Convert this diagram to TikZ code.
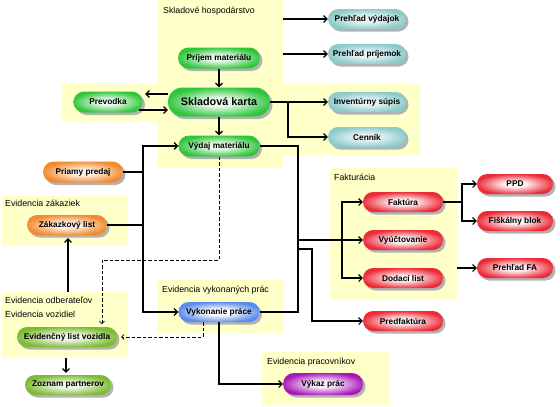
\documentclass[tikz,border=0pt]{standalone}
\usepackage{fontspec}
\setmainfont{Liberation Sans}
\usetikzlibrary{shapes.misc,shadows,arrows.meta}
\definecolor{panelY}{HTML}{FFFFC8}
\definecolor{cGreen}{HTML}{2FC63C}
\definecolor{cTeal}{HTML}{8DCACA}
\definecolor{cOrange}{HTML}{F28A2E}
\definecolor{cOlive}{HTML}{7DBB35}
\definecolor{cBlue}{HTML}{5A8CEC}
\definecolor{cPurple}{HTML}{A818B8}
\definecolor{cRed}{HTML}{EC2A38}
\colorlet{cGreenIn}{cGreen!10!white}
\colorlet{cTealIn}{cTeal!20!white}
\colorlet{cOrangeIn}{cOrange!12!white}
\colorlet{cOliveIn}{cOlive!12!white}
\colorlet{cBlueIn}{white}
\colorlet{cPurpleIn}{cPurple!6!white}
\colorlet{cRedIn}{cRed!6!white}
\newcommand{\mkpillshade}[1]{\pgfdeclareradialshading{sh#1}{\pgfpoint{0bp}{0bp}}{color(0bp)=(c#1In); color(7bp)=(c#1In); color(26bp)=(c#1); color(50bp)=(c#1)}}
\mkpillshade{Green}
\mkpillshade{Teal}
\mkpillshade{Orange}
\mkpillshade{Olive}
\mkpillshade{Blue}
\mkpillshade{Purple}
\mkpillshade{Red}
\begin{document}
\begin{tikzpicture}[x=1pt,y=-1pt,
  pill/.style={rounded rectangle, minimum width=80pt, minimum height=20pt, inner sep=0pt,
    font=\fontsize{8.3}{9}\selectfont\bfseries,
    drop shadow={shadow xshift=2.5pt,shadow yshift=-2.5pt,fill=black!30,opacity=1}},
  gr/.style={pill, shading=shGreen},
  te/.style={pill, shading=shTeal},
  orn/.style={pill, shading=shOrange},
  olv/.style={pill, shading=shOlive},
  blu/.style={pill, shading=shBlue},
  pur/.style={pill, shading=shPurple},
  rd/.style={pill, shading=shRed},
  ln/.style={line width=1.1pt},
  arr/.style={line width=1.1pt, -{Straight Barb[length=3.5pt,width=7pt]}},
  darr/.style={line width=0.7pt, dash pattern=on 3.5pt off 2pt, -{Straight Barb[length=2.5pt,width=5pt]}},
  panel/.style={fill=panelY, draw=none},
  plabel/.style={anchor=west, inner sep=0pt, font=\fontsize{8.8}{10}\selectfont}
]
\useasboundingbox (0,0) rectangle (560,407);
% panels
\fill[panel] (158,0) rectangle (283,168);
\fill[panel] (62,84) rectangle (158,122);
\fill[panel] (283,83) rectangle (420,155);
\fill[panel] (2,196) rectangle (128,246);
\fill[panel] (2,292) rectangle (128,357);
\fill[panel] (157,280) rectangle (284,333);
\fill[panel] (262,352) rectangle (389,405);
\fill[panel] (330,168) rectangle (457,300);
% panel labels
\node[plabel] (l1) at (163,11) {Skladové hospodárstvo};
\node[plabel] (l2) at (5,203) {Evidencia zákaziek};
\node[plabel] (l3) at (5,300) {Evidencia odberateľov};
\node[plabel] (l4) at (5,314) {Evidencia vozidiel};
\node[plabel] (l5) at (162,290) {Evidencia vykonaných prác};
\node[plabel] (l6) at (267,362) {Evidencia pracovníkov};
\node[plabel] (l7) at (334,177) {Fakturácia};
% nodes
\node[gr, minimum width=82pt, minimum height=21pt] (prijem) at (219,58) {Príjem materiálu};
\node[gr, minimum width=102pt, minimum height=29pt, font=\fontsize{10.8}{12}\selectfont\bfseries] (sk) at (219,102) {Skladová karta};
\node[gr, minimum width=81pt, minimum height=21pt] (vydaj) at (219,146) {Výdaj materiálu};
\node[gr, minimum width=69pt, minimum height=21pt] (prev) at (108,102) {Prevodka};
\node[te, minimum width=78pt] (pvyd) at (367,19) {Prehľad výdajok};
\node[te, minimum width=78pt] (pprij) at (367,54) {Prehľad príjemok};
\node[te, minimum width=78pt] (inv) at (367,102) {Inventúrny súpis};
\node[te, minimum width=78pt] (cen) at (367,137) {Cenník};
\node[orn, minimum height=21pt] (pp) at (83,172) {Priamy predaj};
\node[orn] (zak) at (67,225) {Zákazkový list};
\node[olv, minimum width=100pt] (evl) at (67,337) {Evidenčný list vozidla};
\node[olv, minimum width=86pt] (zoz) at (68,385) {Zoznam partnerov};
\node[blu, minimum width=81pt] (vykon) at (219,312) {Vykonanie práce};
\node[pur, minimum height=22pt] (vykaz) at (323,384) {Výkaz prác};
\node[rd] (fakt) at (403,202) {Faktúra};
\node[rd] (vyuct) at (403,240) {Vyúčtovanie};
\node[rd] (dod) at (403,278) {Dodací list};
\node[rd] (pred) at (403,321) {Predfaktúra};
\node[rd, minimum width=76pt] (ppd) at (515,184) {PPD};
\node[rd, minimum width=76pt] (fisk) at (515,221) {Fiškálny blok};
\node[rd, minimum width=76pt] (pfa) at (515,268) {Prehľad FA};
% coordinates
\coordinate (e1) at (283,19);
\coordinate (e2) at (283,54);
\coordinate (b1) at (288,102);
\coordinate (skL1) at (168,94);
\coordinate (prR2) at (139,110);
\coordinate (ltx) at (143,0);
\coordinate (rtx) at (298,0);
\coordinate (rt1) at (298,240);
\coordinate (fb) at (342,240);
\coordinate (rt2) at (298,249);
\coordinate (pb) at (312,249);
\coordinate (fkx) at (462,0);
\coordinate (pfa0) at (457,268);
\coordinate (ez) at (68,292);
\coordinate (zz) at (66,358);
\coordinate (d1a) at (102,260);
\coordinate (d1b) at (102,324);
\coordinate (d2x) at (203,0);
% connectors
\draw[arr] (e1) -- (pvyd.west);
\draw[arr] (e2) -- (pprij.west);
\draw[arr] (prijem.south) -- (sk.north);
\draw[arr] (sk.south) -- (vydaj.north);
\draw[arr] (sk.east) -- (inv.west);
\draw[arr] (b1) |- (cen.west);
\draw[arr, shorten >=2.5pt] (skL1) -- (prev.east |- skL1);
\draw[arr] (prR2) -- (sk.west |- prR2);
% left trunk
\draw[arr] (vykon.west -| ltx) |- (vydaj.west);
\draw[arr] (vydaj.west -| ltx) |- (vykon.west);
\draw[ln] (pp.east) -- (pp.east -| ltx);
\draw[ln] (zak.east) -- (zak.east -| ltx);
% right trunk
\draw[ln] (vydaj.east) -| (vykon.east -| rtx) -- (vykon.east);
\draw[arr] (rt1) -- (vyuct.west);
\draw[arr] (fb) |- (fakt.west);
\draw[arr] (fb) |- (dod.west);
\draw[arr] (rt2) -- (pb) |- (pred.west);
\draw[ln] (fakt.east) -- (fakt.east -| fkx);
\draw[arr] (fakt.east -| fkx) |- (ppd.west);
\draw[arr] (fakt.east -| fkx) |- (fisk.west);
\draw[arr] (pfa0) -- (pfa.west);
% bottom
\draw[arr] (vykon.south) |- (vykaz.west);
\draw[arr, shorten >=3pt] (ez) -- (zak.south -| ez);
\draw[arr, shorten >=2pt] (zz) -- (zoz.north -| zz);
% dashed
\draw[darr] (vydaj.south) |- (d1a) -- (d1b);
\draw[darr] (vykon.south -| d2x) |- ([xshift=4pt]evl.east);
\end{tikzpicture}
\end{document}
